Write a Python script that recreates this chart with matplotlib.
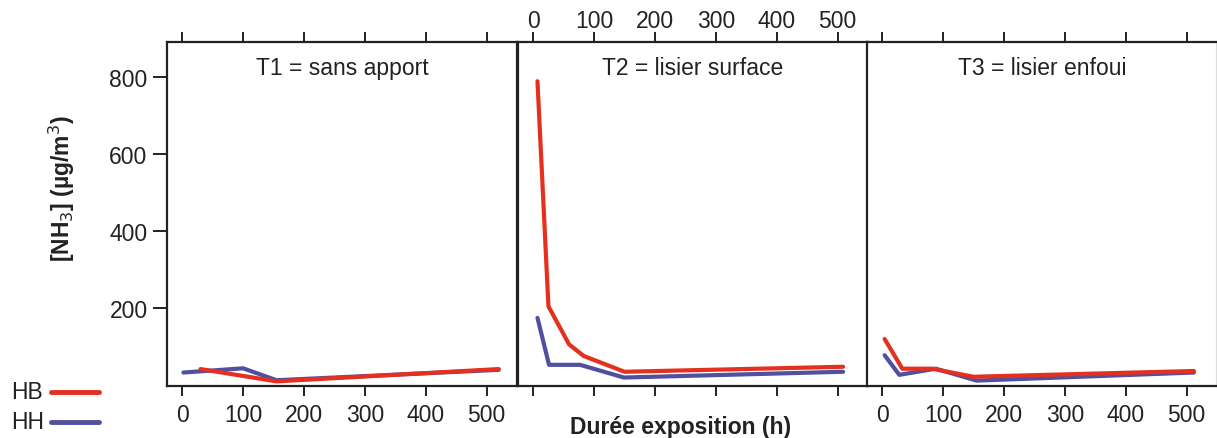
import matplotlib.pyplot as plt

plt.rcParams['font.family'] = ['Liberation Sans', 'DejaVu Sans']

RED = '#e5301f'
BLUE = '#5050a0'

titles = ['T1 = sans apport', 'T2 = lisier surface', 'T3 = lisier enfoui']

# HB / HH concentrations, NH3 in ug/m3 vs exposure time (h)
t1_hb_x = [30, 155, 520]
t1_hb_y = [40, 8, 40]
t1_hh_x = [2, 100, 155, 520]
t1_hh_y = [31, 42, 11, 38]

t2_hb_x = [7, 25, 59, 83, 150, 509]
t2_hb_y = [788, 203, 104, 74, 33, 46]
t2_hh_x = [7, 26, 77, 149, 509]
t2_hh_y = [173, 51, 51, 18, 33]

t3_hb_x = [4, 33, 82, 150, 512]
t3_hb_y = [118, 41, 41, 20, 35]
t3_hh_x = [4, 28, 88, 155, 512]
t3_hh_y = [76, 25, 41, 10, 31]

hb = [(t1_hb_x, t1_hb_y), (t2_hb_x, t2_hb_y), (t3_hb_x, t3_hb_y)]
hh = [(t1_hh_x, t1_hh_y), (t2_hh_x, t2_hh_y), (t3_hh_x, t3_hh_y)]

xticks = [0, 100, 200, 300, 400, 500]
yticks = [200, 400, 600, 800]

W, H = 1217, 439
fig = plt.figure(figsize=(W / 100, H / 100), dpi=100)

lefts = [167, 518, 867]
width = 350
top, bottom = 43, 387

axes = []
for i in range(3):
    ax = fig.add_axes([lefts[i] / W, 1 - bottom / H, width / W, (bottom - top) / H])
    axes.append(ax)
    ax.plot(hh[i][0], hh[i][1], color=BLUE, lw=3, solid_capstyle='round', zorder=2)
    ax.plot(hb[i][0], hb[i][1], color=RED, lw=3, solid_capstyle='round', zorder=3)
    ax.set_xlim(-25, 550)
    ax.set_ylim(-4, 890)
    ax.text(0.5, 0.96, titles[i], transform=ax.transAxes, ha='center', va='top',
            fontsize=16.5, color='#222222')
    for s in ax.spines.values():
        s.set_linewidth(1.6)
        s.set_color('#222222')
    ax.xaxis.set_ticks_position('both')
    ax.set_xticks(xticks)
    ax.tick_params(axis='x', direction='out', length=7, width=1.4, color='#222222',
                   labelsize=16.5, labelcolor='#222222', pad=5)
    if i == 1:
        ax.tick_params(axis='x', labelbottom=False, labeltop=True, pad=0)
    else:
        ax.tick_params(axis='x', labelbottom=True, labeltop=False)
    if i == 0:
        ax.set_yticks(yticks)
        ax.tick_params(axis='y', direction='out', length=10, width=1.4, color='#222222',
                       labelsize=16.5, labelcolor='#222222', pad=4)
    else:
        ax.set_yticks([])

axes[2].spines['right'].set_color('#dddddd')

fig.text(62 / W, 1 - 189 / H, '[NH$_3$] (µg/m$^3$)', rotation=90, ha='center',
         va='center', fontsize=16.5, fontweight='bold', color='#222222')
fig.text(681 / W, 1 - 428 / H, 'Durée exposition (h)', ha='center', va='center',
         fontsize=16.5, fontweight='bold', color='#222222')

# legend drawn by hand in the bottom-left corner
for label, col, y in [('HB', RED, 393), ('HH', BLUE, 423)]:
    fig.text(11 / W, 1 - y / H, label, ha='left', va='center', fontsize=16.5, color='#222222')
    fig.add_artist(plt.Line2D([51 / W, 99 / W], [1 - y / H, 1 - y / H], color=col,
                              lw=3.5, solid_capstyle='round'))

fig.savefig('out.png', dpi=100)
